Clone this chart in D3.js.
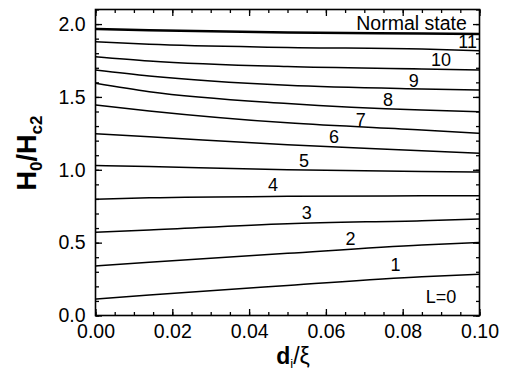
<!DOCTYPE html>
<html>
<head>
<meta charset="utf-8">
<script src="https://cdn.jsdelivr.net/npm/d3@7"></script>
<style>
  html, body { margin: 0; padding: 0; background: #fff; }
  svg { display: block; font-family: "Liberation Sans", Arial, Helvetica, sans-serif; }
</style>
</head>
<body>
<svg id="chart" width="510" height="373"></svg>
<script>
// Reduced thickness d_i/xi at which each boundary is sampled
const thickness = [0, 0.014, 0.05, 0.085, 0.1];

// Phase boundaries H0/Hc2 between neighbouring vorticity states L
const bound01 = [0.113, 0.141, 0.206, 0.266, 0.283];
const bound12 = [0.340, 0.365, 0.427, 0.484, 0.502];
const bound23 = [0.571, 0.587, 0.630, 0.651, 0.662];
const bound34 = [0.798, 0.808, 0.818, 0.821, 0.822];
const bound45 = [1.030, 1.022, 1.001, 0.988, 0.985];
const bound56 = [1.248, 1.227, 1.171, 1.131, 1.113];
const bound67 = [1.445, 1.404, 1.322, 1.273, 1.251];
const bound78 = [1.594, 1.536, 1.455, 1.410, 1.399];
const bound89 = [1.685, 1.644, 1.580, 1.555, 1.548];
const bound910 = [1.776, 1.747, 1.708, 1.692, 1.685];
const bound1011 = [1.879, 1.861, 1.840, 1.829, 1.817];
const boundNormal = [1.966, 1.958, 1.942, 1.935, 1.932];

const boundaries = [bound01, bound12, bound23, bound34, bound45, bound56,
                    bound67, bound78, bound89, bound910, bound1011, boundNormal];

// State labels and where they sit (data units)
const stateLabels = ["L=0", "1", "2", "3", "4", "5", "6", "7", "8", "9", "10", "11", "Normal state"];
const stateLabelX = [0.0900, 0.0781, 0.0664, 0.0550, 0.0462, 0.0543, 0.0621, 0.0691, 0.0762, 0.0829, 0.0900, 0.0969, 0.0967];
const stateLabelY = [0.132, 0.353, 0.525, 0.710, 0.896, 1.065, 1.225, 1.347, 1.481, 1.613, 1.760, 1.879, 2.007];

// Axis ticks
const xMajor = [0, 0.02, 0.04, 0.06, 0.08, 0.10];
const xMinor = d3.range(0, 21).map(i => i * 0.005);
const yMajor = [0, 0.5, 1.0, 1.5, 2.0];
const yMinor = d3.range(0, 22).map(i => i * 0.1);

const svg = d3.select("#chart");
const plotLeft = 95.5, plotRight = 479.5, plotTop = 9.5, plotBottom = 315.5;

const x = d3.scaleLinear().domain([0, 0.1]).range([plotLeft, plotRight]);
const y = d3.scaleLinear().domain([0, 2.1]).range([plotBottom, plotTop]);

const black = "#000";

// Curves
const line = d3.line()
  .x((d, i) => x(thickness[i]))
  .y(d => y(d))
  .curve(d3.curveMonotoneX);

svg.append("g")
  .selectAll("path")
  .data(boundaries)
  .join("path")
  .attr("d", d => line(d))
  .attr("fill", "none")
  .attr("stroke", black)
  .attr("stroke-width", (d, i) => i === boundaries.length - 1 ? 2.4 : 1.5);

// Axes: ticks point inward on all four sides
function styleAxis(g) {
  g.select(".domain").remove();
  g.selectAll(".tick line").attr("stroke", black).attr("stroke-width", 1.3);
  g.selectAll("text").attr("fill", black).attr("font-size", 19.5);
}

// bottom
svg.append("g").attr("transform", `translate(0,${plotBottom})`)
  .call(d3.axisBottom(x).tickValues(xMinor).tickFormat("").tickSize(-3.5)).call(styleAxis);
svg.append("g").attr("transform", `translate(0,${plotBottom})`)
  .call(d3.axisBottom(x).tickValues(xMajor).tickFormat(d3.format(".2f")).tickSize(-6.5).tickPadding(9))
  .call(styleAxis);
// top
svg.append("g").attr("transform", `translate(0,${plotTop})`)
  .call(d3.axisTop(x).tickValues(xMinor).tickFormat("").tickSize(-3.5)).call(styleAxis);
svg.append("g").attr("transform", `translate(0,${plotTop})`)
  .call(d3.axisTop(x).tickValues(xMajor).tickFormat("").tickSize(-6.5)).call(styleAxis);
// left
svg.append("g").attr("transform", `translate(${plotLeft},0)`)
  .call(d3.axisLeft(y).tickValues(yMinor).tickFormat("").tickSize(-3.5)).call(styleAxis);
svg.append("g").attr("transform", `translate(${plotLeft},0)`)
  .call(d3.axisLeft(y).tickValues(yMajor).tickFormat(d3.format(".1f")).tickSize(-6.5).tickPadding(10))
  .call(styleAxis);
// right
svg.append("g").attr("transform", `translate(${plotRight},0)`)
  .call(d3.axisRight(y).tickValues(yMinor).tickFormat("").tickSize(-3.5)).call(styleAxis);
svg.append("g").attr("transform", `translate(${plotRight},0)`)
  .call(d3.axisRight(y).tickValues(yMajor).tickFormat("").tickSize(-6.5)).call(styleAxis);

// Frame
svg.append("rect")
  .attr("x", plotLeft).attr("y", plotTop)
  .attr("width", plotRight - plotLeft).attr("height", plotBottom - plotTop)
  .attr("fill", "none").attr("stroke", black).attr("stroke-width", 1.6);

// State labels
svg.append("g")
  .selectAll("text")
  .data(stateLabels)
  .join("text")
  .attr("x", (d, i) => x(stateLabelX[i]))
  .attr("y", (d, i) => y(stateLabelY[i]))
  .attr("dy", "0.36em")
  .attr("text-anchor", (d, i) => d === "Normal state" ? "end" : "middle")
  .attr("font-size", d => d === "Normal state" ? 19.5 : 18)
  .attr("fill", black)
  .text(d => d);

// Axis titles
const xTitle = svg.append("text")
  .attr("x", 293).attr("y", 364)
  .attr("text-anchor", "middle")
  .attr("font-size", 23)
  .attr("fill", black);
xTitle.append("tspan").attr("font-weight", "bold").text("d");
xTitle.append("tspan").attr("font-size", 13).attr("dy", 4).text("i");
xTitle.append("tspan").attr("dy", -4).text("/ξ");

const yTitle = svg.append("text")
  .attr("transform", "translate(36,153) rotate(-90)")
  .attr("text-anchor", "middle")
  .attr("font-size", 27)
  .attr("font-weight", "bold")
  .attr("fill", black);
yTitle.append("tspan").text("H");
yTitle.append("tspan").attr("font-size", 17).attr("dy", 6).text("0");
yTitle.append("tspan").attr("dy", -6).text("/H");
yTitle.append("tspan").attr("font-size", 17).attr("dy", 6).text("c2");
</script>
</body>
</html>
